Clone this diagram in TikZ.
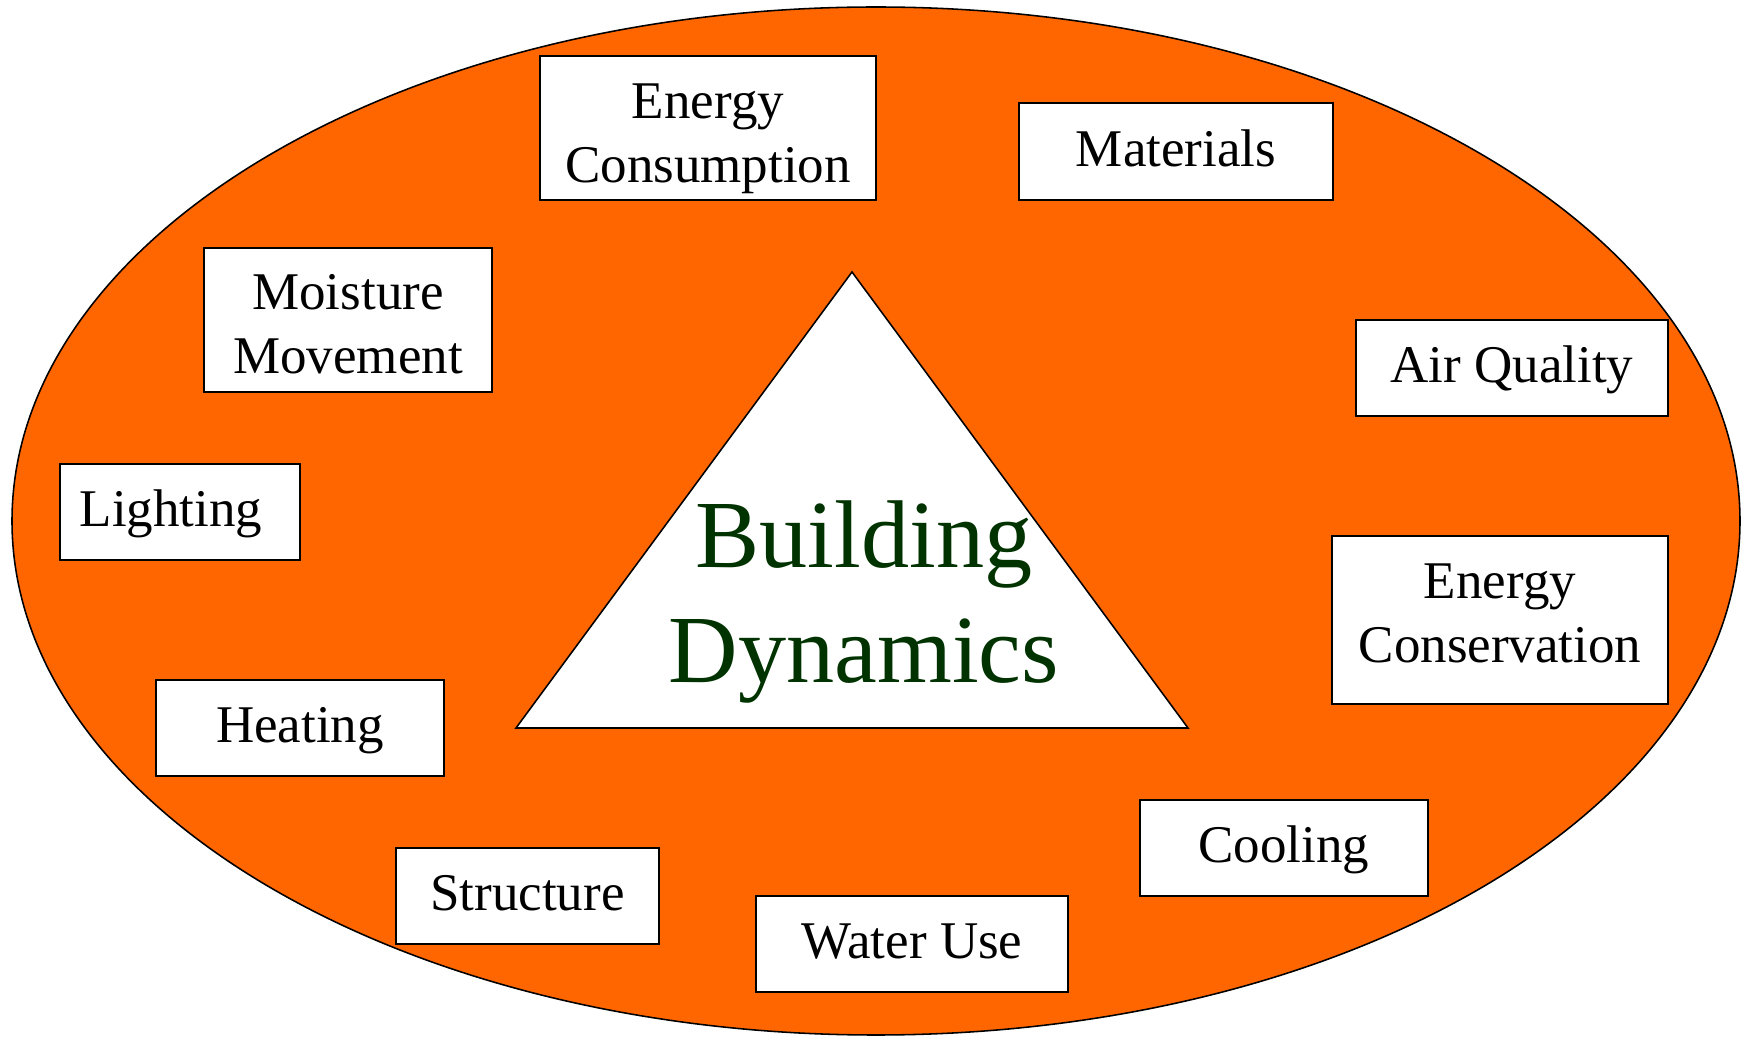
\documentclass[tikz,border=0pt]{standalone}
\usepackage{fontspec}
\setmainfont{Liberation Serif}
\usetikzlibrary{fit}
\definecolor{bgorange}{HTML}{FF6600}
\definecolor{darkgreen}{HTML}{003300}
\tikzset{
  boxnode/.style={draw=black, line width=1pt, fill=white, inner sep=0pt, rectangle},
  onetxt/.style={font=\fontsize{23.85}{28.8}\selectfont, inner sep=0pt, text height=15.8pt, text depth=0pt},
  twotxt/.style={font=\fontsize{23.85}{28.8}\selectfont, inner sep=0pt, align=center},
  bigtxt/.style={font=\fontsize{43.3}{51.75}\selectfont, text=darkgreen, inner sep=0pt, align=center}
}
\begin{document}
\begin{tikzpicture}[x=0.45pt, y=-0.45pt]
\useasboundingbox (0,0) rectangle (1748,1037);
\fill[white] (0,0) rectangle (1748,1037);
% outer ellipse
\draw[fill=bgorange, line width=0.7pt] (876,521) ellipse [x radius=864, y radius=514];
% central triangle
\coordinate (apex) at (852,272);
\coordinate (bl) at (516,728);
\coordinate (br) at (1188,728);
\draw[fill=white, line width=0.7pt, line join=miter] (apex) -- (br) -- (bl) -- cycle;
\node[bigtxt] (bd) at (864,602) {Building\\Dynamics};
% boxes
\node[boxnode, fit={(540,56) (876,200)}] (ecb) {};
\node[twotxt] (ect) at ([yshift=-4.7pt]ecb.center) {Energy\\Consumption};
\node[boxnode, fit={(1019,103) (1333,200)}] (matb) {};
\node[onetxt] (matt) at ([yshift=1.35pt]matb.center) {Materials};
\node[boxnode, fit={(204,248) (492,392)}] (mmb) {};
\node[twotxt] (mmt) at ([yshift=-1.9pt]mmb.center) {Moisture\\Movement};
\node[boxnode, fit={(1356,320) (1668,416)}] (aqb) {};
\node[onetxt] (aqt) at ([yshift=1.35pt]aqb.center) {Air Quality};
\node[boxnode, fit={(60,464) (300,560)}] (ltb) {};
\node[onetxt] (ltt) at ([xshift=-4.05pt, yshift=1.35pt]ltb.center) {Lighting};
\node[boxnode, fit={(1332,536) (1668,704)}] (ecvb) {};
\node[twotxt] (ecvt) at ([yshift=3.1pt]ecvb.center) {Energy\\Conservation};
\node[boxnode, fit={(156,680) (444,776)}] (htb) {};
\node[onetxt] (htt) at ([yshift=1.35pt]htb.center) {Heating};
\node[boxnode, fit={(1140,800) (1428,896)}] (clb) {};
\node[onetxt] (clt) at ([yshift=1.35pt]clb.center) {Cooling};
\node[boxnode, fit={(396,848) (659,944)}] (stb) {};
\node[onetxt] (stt) at ([yshift=1.35pt]stb.center) {Structure};
\node[boxnode, fit={(756,896) (1068,992)}] (wub) {};
\node[onetxt] (wut) at ([yshift=1.35pt]wub.center) {Water Use};
\end{tikzpicture}
\end{document}
